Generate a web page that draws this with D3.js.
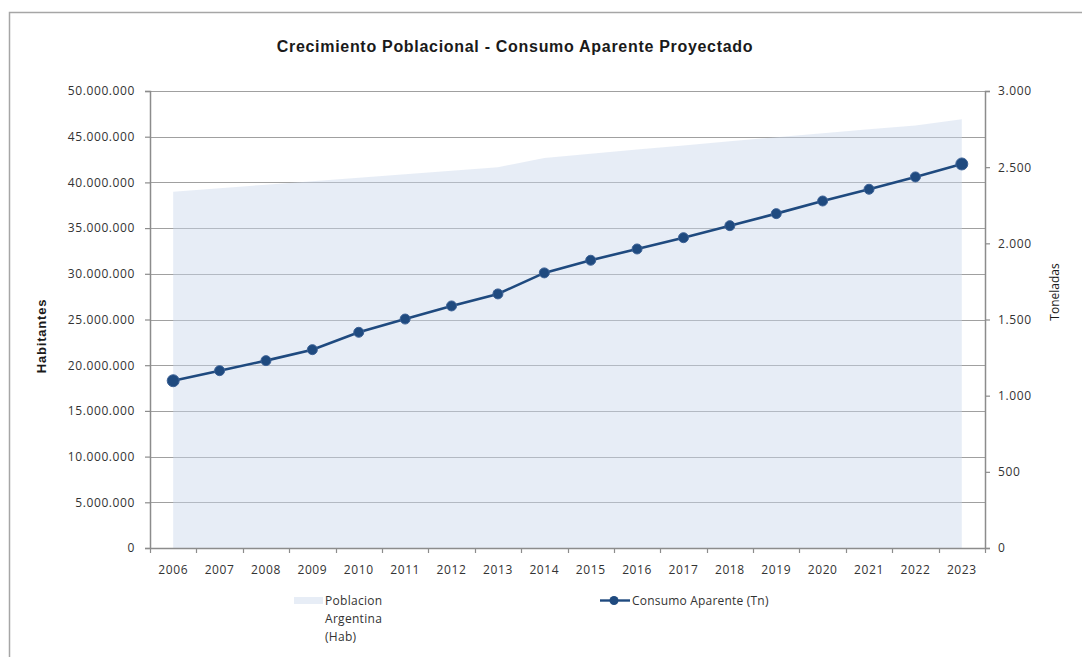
<!DOCTYPE html>
<html>
<head>
<meta charset="utf-8">
<script src="https://cdn.jsdelivr.net/npm/d3@7"></script>
<style>
  html, body { margin: 0; padding: 0; background: #fff; }
  svg { display: block; }
</style>
</head>
<body>
<svg id="chart" width="1082" height="657"></svg>
<script>
const years = ["2006","2007","2008","2009","2010","2011","2012","2013","2014","2015","2016","2017","2018","2019","2020","2021","2022","2023"];
const poblacion = [38970000, 39360000, 39750000, 40130000, 40520000, 40900000, 41280000, 41660000, 42670000, 43130000, 43590000, 44040000, 44490000, 44940000, 45380000, 45810000, 46230000, 46900000];
const consumo = [1098, 1164, 1230, 1302, 1416, 1503, 1589, 1668, 1806, 1889, 1963, 2037, 2116, 2195, 2278, 2355, 2436, 2521];
const leftTicks = [0, 5000000, 10000000, 15000000, 20000000, 25000000, 30000000, 35000000, 40000000, 45000000, 50000000];
const rightTicks = [0, 500, 1000, 1500, 2000, 2500, 3000];
const title = "Crecimiento Poblacional - Consumo Aparente Proyectado";
const leftTitle = "Habitantes";
const rightTitle = "Toneladas";
const legendArea = ["Poblacion", "Argentina", "(Hab)"];
const legendLine = "Consumo Aparente (Tn)";

const svg = d3.select("#chart");
const L = 150, R = 985, T = 91, B = 548;
const fmt = v => d3.format(",")(v).replace(/,/g, ".");
const labelFont = "'Open Sans', sans-serif";

// frame
svg.append("path").attr("d", `M9.5,657 V12.5 H1082`).attr("fill", "none").attr("stroke", "#a6a6a6").attr("stroke-width", 1.5);

const x = d3.scaleBand().domain(years).range([L, R]);
const yL = d3.scaleLinear().domain([0, 50000000]).range([B, T]);
const yR = d3.scaleLinear().domain([0, 3000]).range([B, T]);

// gridlines
svg.append("g").selectAll("line").data(leftTicks.filter(d => d > 0)).join("line")
  .attr("x1", L).attr("x2", R).attr("y1", d => Math.round(yL(d)) + 0.5).attr("y2", d => Math.round(yL(d)) + 0.5)
  .attr("stroke", "#a0a0a0").attr("stroke-width", 1.2);

// area
const area = d3.area()
  .x(d => x(d.year) + x.bandwidth() / 2)
  .y0(B).y1(d => yL(d.v));
svg.append("path")
  .datum(years.map((y, i) => ({ year: y, v: poblacion[i] })))
  .attr("d", area).attr("fill", "#c9d8ec").attr("fill-opacity", 0.45);

// left axis
const gL = svg.append("g").attr("transform", `translate(${L},0)`)
  .call(d3.axisLeft(yL).tickValues(leftTicks).tickFormat(fmt).tickSize(5).tickPadding(10));
// right axis
const gR = svg.append("g").attr("transform", `translate(${R},0)`)
  .call(d3.axisRight(yR).tickValues(rightTicks).tickFormat(fmt).tickSize(5).tickPadding(8));
// bottom axis
const gB = svg.append("g").attr("transform", `translate(0,${B})`)
  .call(d3.axisBottom(x).tickSize(0).tickPadding(17));
// boundary ticks for bottom axis
svg.append("g").selectAll("line").data(years.concat(["end"])).join("line")
  .attr("x1", (d, i) => Math.round(L + i * x.step()) + 0.5)
  .attr("x2", (d, i) => Math.round(L + i * x.step()) + 0.5)
  .attr("y1", B).attr("y2", B + 5).attr("stroke", "#8c8c8c").attr("stroke-width", 1.2);

[gL, gR, gB].forEach(g => {
  g.select(".domain").attr("stroke", "#8c8c8c").attr("stroke-width", 1.5);
  g.selectAll(".tick line").attr("stroke", "#8c8c8c").attr("stroke-width", 1.2);
  g.selectAll(".tick text").attr("fill", "#333").attr("font-family", labelFont)
    .attr("font-size", 12).attr("letter-spacing", 0.6);
});
gB.select(".domain").attr("d", `M${L},0.5H${R}`);

// line
const line = d3.line().x(d => x(d.year) + x.bandwidth() / 2).y(d => yR(d.v));
const lineData = years.map((y, i) => ({ year: y, v: consumo[i] }));
svg.append("path").datum(lineData).attr("d", line)
  .attr("fill", "none").attr("stroke", "#1f4a7f").attr("stroke-width", 2.6);
svg.append("g").selectAll("circle").data(lineData).join("circle")
  .attr("cx", d => x(d.year) + x.bandwidth() / 2).attr("cy", d => yR(d.v))
  .attr("r", (d, i) => (i === 0 || i === lineData.length - 1) ? 6 : 5)
  .attr("fill", "#1f4a7f").attr("stroke", "#3d6296").attr("stroke-width", 1);

// title
svg.append("text").attr("x", 515).attr("y", 52).attr("text-anchor", "middle")
  .attr("font-family", "'Liberation Sans', Arial, sans-serif").attr("font-weight", "bold")
  .attr("font-size", 16).attr("letter-spacing", 0.7).attr("fill", "#1a1a1a").text(title);

// axis titles
svg.append("text").attr("transform", `translate(46,336) rotate(-90)`).attr("text-anchor", "middle")
  .attr("font-family", "'Liberation Sans', Arial, sans-serif").attr("font-weight", "bold")
  .attr("font-size", 13).attr("letter-spacing", 0.8).attr("fill", "#1a1a1a").text(leftTitle);
svg.append("text").attr("transform", `translate(1059,292) rotate(-90)`).attr("text-anchor", "middle")
  .attr("font-family", labelFont).attr("font-size", 12).attr("fill", "#1a1a1a").text(rightTitle);

// legend
svg.append("rect").attr("x", 294).attr("y", 597).attr("width", 29).attr("height", 7)
  .attr("fill", "#c9d8ec").attr("fill-opacity", 0.45);
svg.append("g").selectAll("text").data(legendArea).join("text")
  .attr("x", 325).attr("y", (d, i) => 605 + i * 18)
  .attr("font-family", labelFont).attr("font-size", 12).attr("letter-spacing", 0.3)
  .attr("fill", "#333").text(d => d);
svg.append("line").attr("x1", 600).attr("x2", 630).attr("y1", 600.5).attr("y2", 600.5)
  .attr("stroke", "#1f4a7f").attr("stroke-width", 2.4);
svg.append("circle").attr("cx", 614).attr("cy", 600.5).attr("r", 4.5).attr("fill", "#1f4a7f");
svg.append("text").attr("x", 632).attr("y", 605)
  .attr("font-family", labelFont).attr("font-size", 12).attr("letter-spacing", 0.2)
  .attr("fill", "#333").text(legendLine);
</script>
</body>
</html>
